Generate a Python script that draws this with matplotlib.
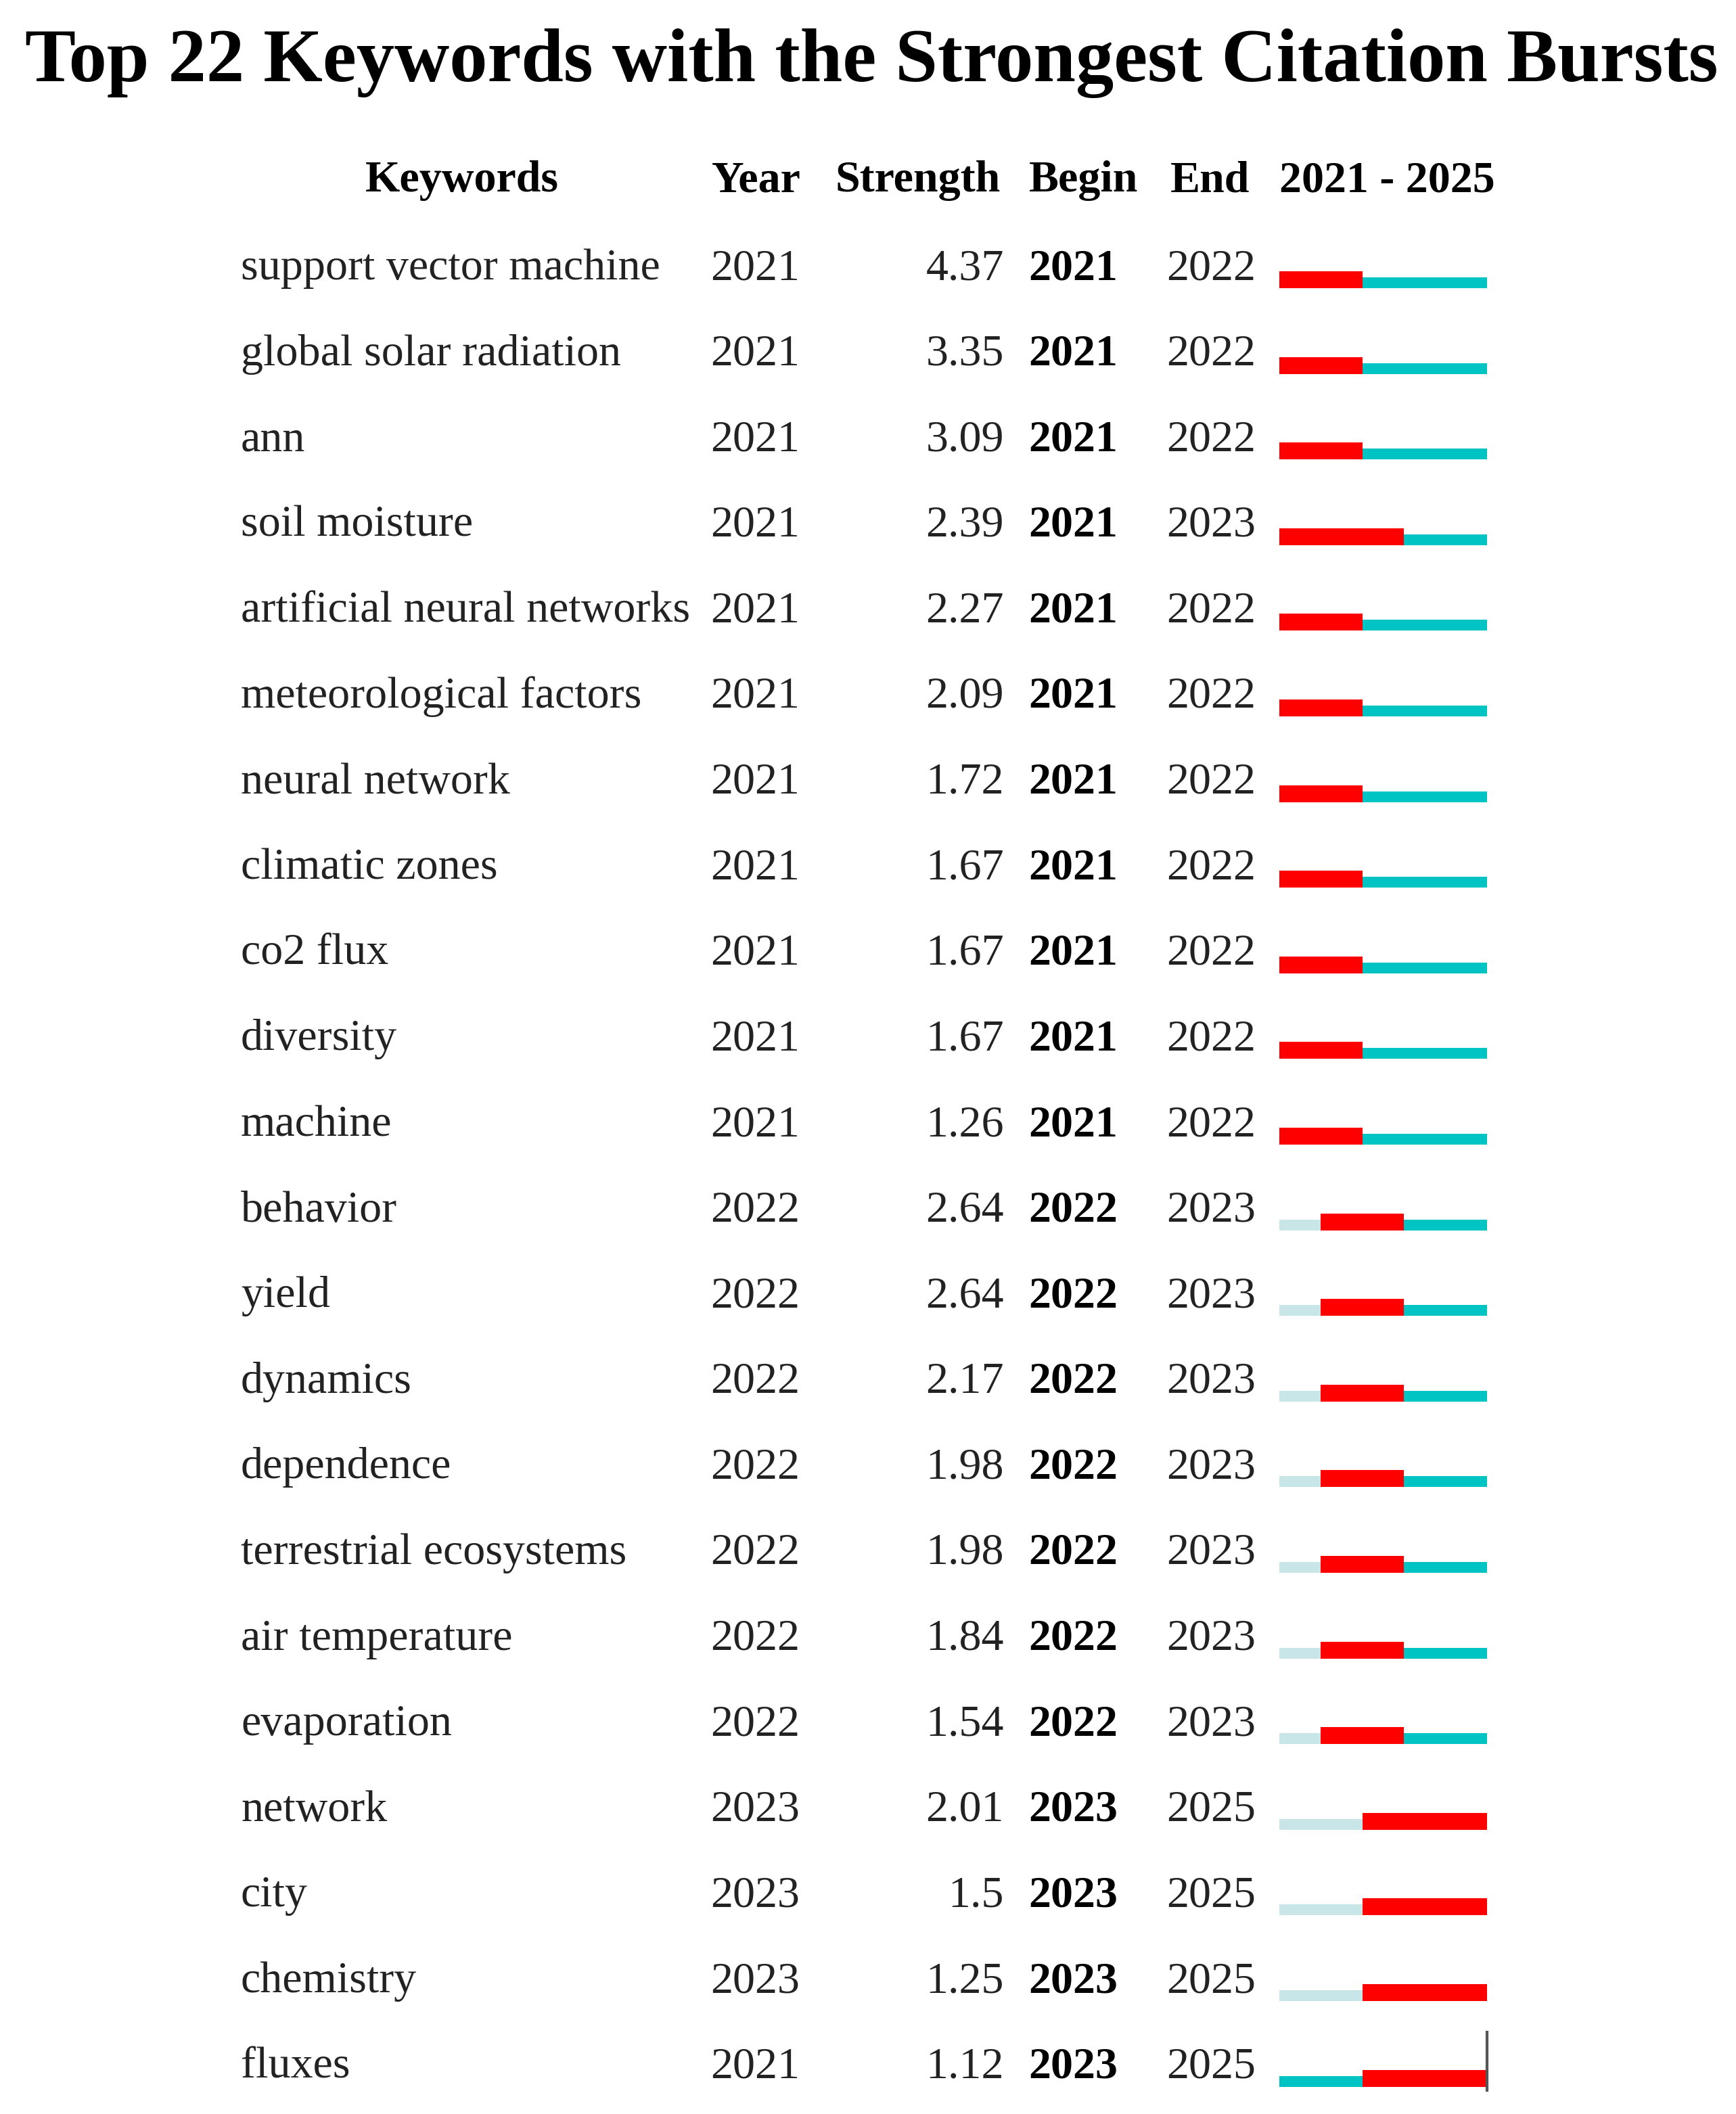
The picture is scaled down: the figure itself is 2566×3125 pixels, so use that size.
import matplotlib
matplotlib.use("Agg")
import matplotlib.pyplot as plt

# ---------------- data ----------------
title = "Top 22 Keywords with the Strongest Citation Bursts"
headers = ["Keywords", "Year", "Strength", "Begin", "End", "2021 - 2025"]

keywords = [
    "support vector machine", "global solar radiation", "ann", "soil moisture",
    "artificial neural networks", "meteorological factors", "neural network",
    "climatic zones", "co2 flux", "diversity", "machine", "behavior", "yield",
    "dynamics", "dependence", "terrestrial ecosystems", "air temperature",
    "evaporation", "network", "city", "chemistry", "fluxes",
]
years = [2021, 2021, 2021, 2021, 2021, 2021, 2021, 2021, 2021, 2021, 2021,
         2022, 2022, 2022, 2022, 2022, 2022, 2022,
         2023, 2023, 2023, 2021]
strengths = [4.37, 3.35, 3.09, 2.39, 2.27, 2.09, 1.72, 1.67, 1.67, 1.67, 1.26,
             2.64, 2.64, 2.17, 1.98, 1.98, 1.84, 1.54,
             2.01, 1.5, 1.25, 1.12]
begins = [2021, 2021, 2021, 2021, 2021, 2021, 2021, 2021, 2021, 2021, 2021,
          2022, 2022, 2022, 2022, 2022, 2022, 2022,
          2023, 2023, 2023, 2023]
ends = [2022, 2022, 2022, 2023, 2022, 2022, 2022, 2022, 2022, 2022, 2022,
        2023, 2023, 2023, 2023, 2023, 2023, 2023,
        2025, 2025, 2025, 2025]
timeline = [2021, 2022, 2023, 2024, 2025]

# ---------------- styling ----------------
W, H, DPI = 2566, 3125, 100
SERIF = ["Liberation Serif", "DejaVu Serif"]
RED = "#FF0000"
TEAL = "#00C3C3"
LIGHT = "#C8E6E8"
TXT = "#222222"
FS = 47.5

fig = plt.figure(figsize=(W / DPI, H / DPI), dpi=DPI)
fig.patch.set_facecolor("white")
ax = fig.add_axes([0, 0, 1, 1])
ax.set_xlim(0, W)
ax.set_ylim(H, 0)
ax.axis("off")

ax.text(1288, 120, title, ha="center", va="baseline", fontsize=81,
        fontweight="bold", family=SERIF, color="black")

# header
hy = 283
hpos = [(683, "center"), (1052, "left"), (1234, "left"), (1521, "left"),
        (1730, "left"), (1891, "left")]
for (x, ha), h in zip(hpos, headers):
    ax.text(x, hy, h, ha=ha, va="baseline", fontsize=FS, fontweight="bold",
            family=SERIF, color="black")

row_y0, row_dy = 413, 126.6
row_y = [row_y0 + i * row_dy for i in range(len(keywords))]

for y, kw, yr, s, b, e in zip(row_y, keywords, years, strengths, begins, ends):
    ax.text(356, y, kw, ha="left", va="baseline", fontsize=FS, family=SERIF, color=TXT)
    ax.text(1050, y, str(yr), ha="left", va="baseline", fontsize=FS, family=SERIF, color=TXT)
    ax.text(1484, y, f"{s:g}", ha="right", va="baseline", fontsize=FS, family=SERIF, color=TXT)
    ax.text(1520, y, str(b), ha="left", va="baseline", fontsize=FS, family=SERIF,
            fontweight="bold", color="black")
    ax.text(1724, y, str(e), ha="left", va="baseline", fontsize=FS, family=SERIF, color=TXT)

# burst timeline bars
bx0, bx1 = 1891, 2198
bax = fig.add_axes([bx0 / W, 0, (bx1 - bx0) / W, 1])
bax.set_xlim(timeline[0], timeline[-1] + 1)
bax.set_ylim(H, 0)
bax.axis("off")
bax.patch.set_alpha(0)

for y, yr, b, e in zip(row_y, years, begins, ends):
    bottom = y + 13
    for t in timeline:
        if yr <= t and b <= t <= e:
            c, h = RED, 25
        elif t < yr:
            c, h = LIGHT, 16
        else:
            c, h = TEAL, 16
        bax.barh(bottom - h / 2, 1, left=t, height=h, color=c, linewidth=0)

# end marker on last row
last_y = row_y[-1]
bax.plot([timeline[-1] + 1, timeline[-1] + 1], [last_y - 70, last_y + 20],
         color="#555555", lw=3, solid_capstyle="butt", clip_on=False)

fig.savefig("out.png", dpi=DPI, facecolor="white")
